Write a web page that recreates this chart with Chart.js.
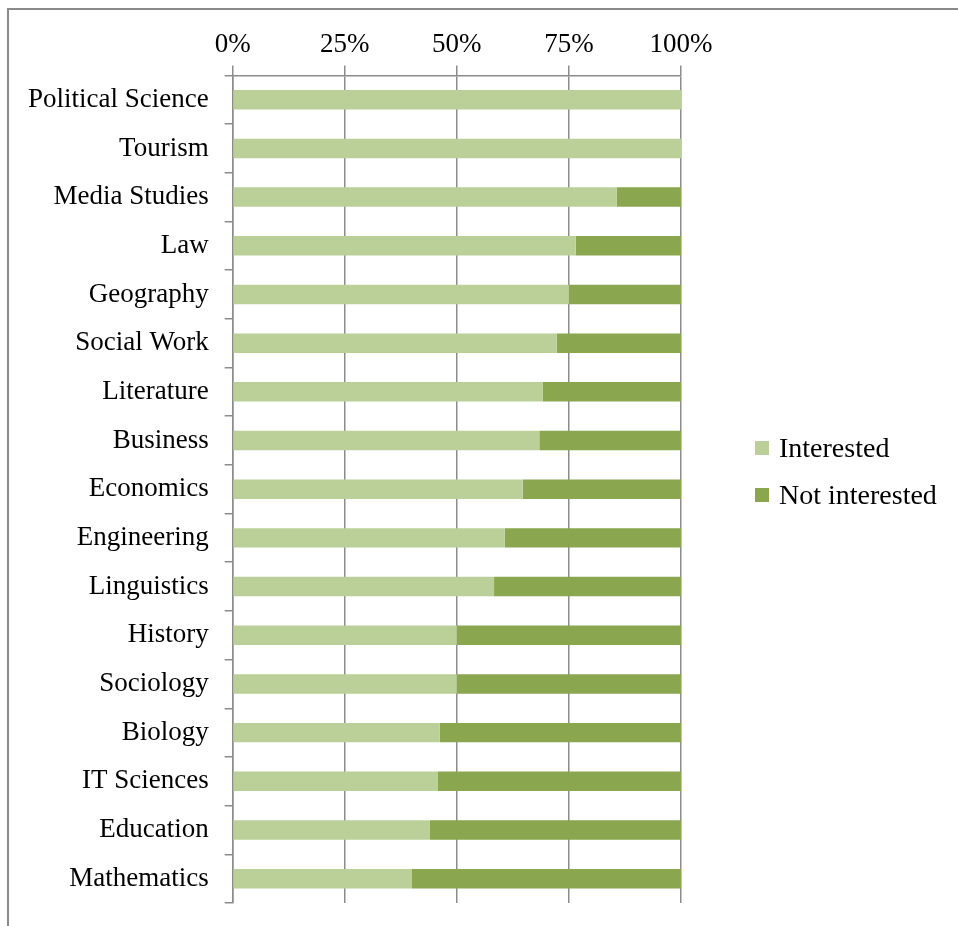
<!DOCTYPE html>
<html>
<head>
<meta charset="utf-8">
<script src="https://cdn.jsdelivr.net/npm/chart.js@4.4.0/dist/chart.umd.min.js"></script>
<style>
  html, body { margin: 0; padding: 0; background: #fff; }
  #wrap { position: relative; width: 958px; height: 926px; overflow: hidden; }
  #frame { position: absolute; left: 7px; top: 8px; width: 1000px; height: 1000px;
           border-left: 2px solid #8a8a8a; border-top: 2px solid #8a8a8a; }
  #salesChart { position: absolute; left: 0; top: 0; }
  #legend { position: absolute; left: 755px; top: 431px; font-family: "Liberation Serif", serif;
            font-size: 28px; color: #000; }
  #legend div { height: 47px; line-height: 34px; white-space: nowrap; }
  #legend span.box { display: inline-block; width: 14px; height: 14px; margin-right: 10px; vertical-align: 2px; }
</style>
</head>
<body>
<div id="wrap">
  <div id="frame"></div>
  <canvas id="salesChart" width="958" height="926"></canvas>
  <div id="legend"></div>
</div>
<script>
let subjects = ['Political Science', 'Tourism', 'Media Studies', 'Law', 'Geography', 'Social Work',
    'Literature', 'Business', 'Economics', 'Engineering', 'Linguistics', 'History', 'Sociology',
    'Biology', 'IT Sciences', 'Education', 'Mathematics'];
let interested = [100, 100, 85.7, 76.5, 75, 72.3, 69.2, 68.4, 64.7, 60.7, 58.3, 50, 50, 46.2, 45.8, 44, 40];
let notInterested = [0, 0, 14.3, 23.5, 25, 27.7, 30.8, 31.6, 35.3, 39.3, 41.7, 50, 50, 53.8, 54.2, 56, 60];
let percentTicks = [0, 25, 50, 75, 100];
let seriesNames = ['Interested', 'Not interested'];
let seriesColors = ['#bbcf98', '#8aa64e'];

let font = { family: 'Liberation Serif', size: 27 };
let gridColor = '#8c8c8c';

let chartData = {
    labels: subjects,
    datasets: [{
        label: seriesNames[0],
        data: interested,
        backgroundColor: seriesColors[0],
        barPercentage: 0.4,
        categoryPercentage: 1
    }, {
        label: seriesNames[1],
        data: notInterested,
        backgroundColor: seriesColors[1],
        barPercentage: 0.4,
        categoryPercentage: 1
    }]
};

let ctx = document.getElementById('salesChart').getContext('2d');
let myChart = new Chart(ctx, {
    type: 'bar',
    data: chartData,
    options: {
        indexAxis: 'y',
        responsive: false,
        animation: false,
        layout: { padding: { left: 12, top: 25, right: 277, bottom: 23 } },
        plugins: { legend: { display: false }, tooltip: { enabled: false } },
        scales: {
            x: {
                position: 'top',
                stacked: true,
                min: 0,
                max: 100,
                afterBuildTicks: function (axis) {
                    axis.ticks = percentTicks.map(function (v) { return { value: v }; });
                },
                afterFit: function (axis) {
                    axis.paddingLeft = 0;
                    axis.paddingRight = 0;
                },
                ticks: {
                    font: font,
                    color: '#000',
                    padding: 4,
                    maxRotation: 0,
                    callback: function (v) { return v + '%'; }
                },
                grid: { color: gridColor, lineWidth: 1.5, tickLength: 10 },
                border: { color: gridColor, width: 1.5 }
            },
            y: {
                stacked: true,
                afterFit: function (axis) {
                    axis.paddingTop = 0;
                    axis.paddingBottom = 0;
                },
                ticks: { font: font, color: '#000', padding: 16 },
                grid: { drawOnChartArea: false, color: gridColor, lineWidth: 1.5, tickLength: 8 },
                border: { color: gridColor, width: 1.5 }
            }
        }
    }
});

var legend = document.getElementById('legend');
seriesNames.forEach(function (name, i) {
    var item = document.createElement('div');
    var box = document.createElement('span');
    box.className = 'box';
    box.style.background = seriesColors[i];
    item.appendChild(box);
    item.appendChild(document.createTextNode(name));
    legend.appendChild(item);
});
</script>
</body>
</html>
